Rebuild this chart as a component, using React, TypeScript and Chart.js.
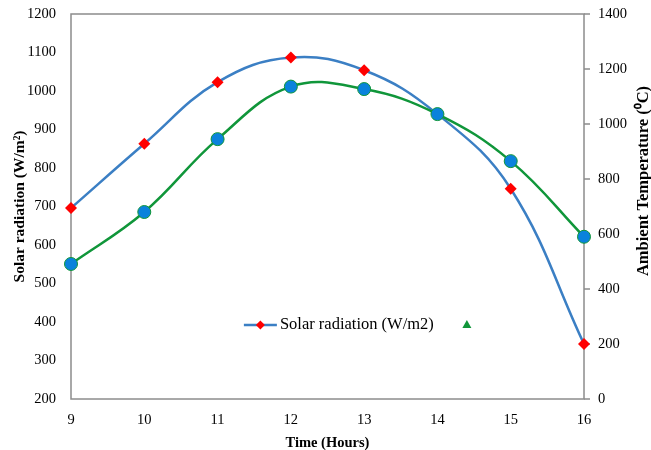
import React, { useEffect, useRef } from "react";
import { Chart, registerables } from "chart.js";

Chart.register(...registerables);

const hours = ["9", "10", "11", "12", "13", "14", "15", "16"];
const solarRadiation = [696, 863, 1023, 1087, 1054, 940, 746, 343];
const ambientTemperature = [491, 680, 945, 1136, 1127, 1036, 865, 590];

const leftTitle = "Solar radiation (W/m²)";
const rightTitle = "Ambient Temperature (⁰C)";
const xTitle = "Time (Hours)";
const legendLabel = "Solar radiation (W/m2)";

const FONT = "'Liberation Serif', 'Times New Roman', serif";
const BLUE = "#3b7fc4";
const RED = "#ff0000";
const GREEN = "#10963a";
const DOT = "#0a82dc";
const AXIS = "#8c8c8c";

const overlay = {
  id: "overlay",
  beforeDatasetsDraw(chart: any) {
    const { ctx, chartArea } = chart;
    ctx.save();
    ctx.strokeStyle = AXIS;
    ctx.lineWidth = 1.5;
    ctx.strokeRect(chartArea.left, chartArea.top, chartArea.right - chartArea.left, chartArea.bottom - chartArea.top);
    // right axis outward tick marks
    const s = chart.scales.y2;
    ctx.beginPath();
    s.ticks.forEach((_t: any, i: number) => {
      const y = s.getPixelForTick(i);
      ctx.moveTo(chartArea.right, y);
      ctx.lineTo(chartArea.right + 6, y);
    });
    ctx.stroke();
    ctx.restore();
  },
  afterDraw(chart: any) {
    const { ctx, chartArea } = chart;
    ctx.save();
    // right axis title, reading bottom to top
    ctx.font = `bold 16.5px ${FONT}`;
    ctx.fillStyle = "#000";
    ctx.textAlign = "center";
    ctx.textBaseline = "middle";
    ctx.translate(chart.width - 7, 181);
    ctx.rotate(-Math.PI / 2);
    ctx.fillText(rightTitle, 0, 0);
    ctx.restore();

    // legend inside plot
    const w = chartArea.right - chartArea.left;
    const h = chartArea.bottom - chartArea.top;
    const lx = chartArea.left + w * 0.337;
    const ly = chartArea.top + h * 0.808;
    ctx.save();
    ctx.strokeStyle = BLUE;
    ctx.lineWidth = 2.5;
    ctx.beginPath();
    ctx.moveTo(lx, ly);
    ctx.lineTo(lx + 33, ly);
    ctx.stroke();
    ctx.fillStyle = RED;
    ctx.beginPath();
    const dx = lx + 16.5;
    ctx.moveTo(dx - 4.5, ly);
    ctx.lineTo(dx, ly - 4.5);
    ctx.lineTo(dx + 4.5, ly);
    ctx.lineTo(dx, ly + 4.5);
    ctx.closePath();
    ctx.fill();
    ctx.font = `16.5px ${FONT}`;
    ctx.fillStyle = "#000";
    ctx.textAlign = "left";
    ctx.textBaseline = "middle";
    ctx.fillText(legendLabel, lx + 36, ly);
    const tx = lx + 223;
    ctx.fillStyle = GREEN;
    ctx.beginPath();
    ctx.moveTo(tx, ly - 5);
    ctx.lineTo(tx + 4.5, ly + 3);
    ctx.lineTo(tx - 4.5, ly + 3);
    ctx.closePath();
    ctx.fill();
    ctx.restore();
  },
};

const plain = (v: any) => String(v);
const hiddenTicks = (len: number) => ({
  display: true,
  drawOnChartArea: false,
  drawTicks: true,
  tickLength: len,
  color: "rgba(0,0,0,0)",
});

export default function App() {
  const ref = useRef<HTMLCanvasElement | null>(null);
  useEffect(() => {
    if (!ref.current) return;
    const chart = new Chart(ref.current, {
      type: "line",
      data: {
        labels: hours,
        datasets: [
          {
            label: "Ambient Temperature",
            data: ambientTemperature,
            yAxisID: "y2",
            borderColor: GREEN,
            borderWidth: 2.5,
            backgroundColor: DOT,
            pointBackgroundColor: DOT,
            pointBorderColor: GREEN,
            pointBorderWidth: 1,
            pointRadius: 6.5,
            pointStyle: "circle",
            tension: 0.4,
            order: 0,
          },
          {
            label: legendLabel,
            data: solarRadiation,
            yAxisID: "y",
            borderColor: BLUE,
            borderWidth: 2.5,
            backgroundColor: RED,
            pointBackgroundColor: RED,
            pointBorderColor: RED,
            pointBorderWidth: 0,
            pointRadius: 6,
            pointStyle: "rectRot",
            tension: 0.4,
            order: 1,
          },
        ],
      },
      options: {
        responsive: false,
        animation: false,
        layout: { padding: { top: 14, left: 0, right: 0, bottom: 0 } },
        plugins: {
          legend: { display: false },
          tooltip: { enabled: false },
        },
        scales: {
          x: {
            offset: false,
            grid: { display: false },
            border: { display: false },
            ticks: { color: "#000", font: { family: FONT, size: 14.5 }, padding: 4, maxRotation: 0 },
            title: {
              display: true,
              text: xTitle,
              color: "#000",
              font: { family: FONT, size: 14.5, weight: "bold" },
              padding: { top: 0, bottom: -2 },
            },
            afterFit(scale: any) {
              scale.height = 51;
            },
          },
          y: {
            position: "left",
            min: 200,
            max: 1200,
            grid: hiddenTicks(15),
            border: { display: false },
            ticks: { stepSize: 100, color: "#000", font: { family: FONT, size: 14.5 }, padding: 0, callback: plain },
            title: {
              display: true,
              text: leftTitle,
              color: "#000",
              font: { family: FONT, size: 15.5, weight: "bold" },
              padding: { top: 11, bottom: 0 },
            },
            afterFit(scale: any) {
              scale.width = 71;
            },
          },
          y2: {
            position: "right",
            min: 0,
            max: 1400,
            grid: hiddenTicks(14),
            border: { display: false },
            ticks: { stepSize: 200, color: "#000", font: { family: FONT, size: 14.5 }, padding: 0, callback: plain },
            afterFit(scale: any) {
              scale.width = 67;
            },
          },
        },
      },
      plugins: [overlay],
    } as any);
    return () => chart.destroy();
  }, []);
  return (
    <div style={{ position: "absolute", left: 0, top: 0, width: 651, height: 450 }}>
      <canvas ref={ref} width={651} height={450} />
    </div>
  );
}
